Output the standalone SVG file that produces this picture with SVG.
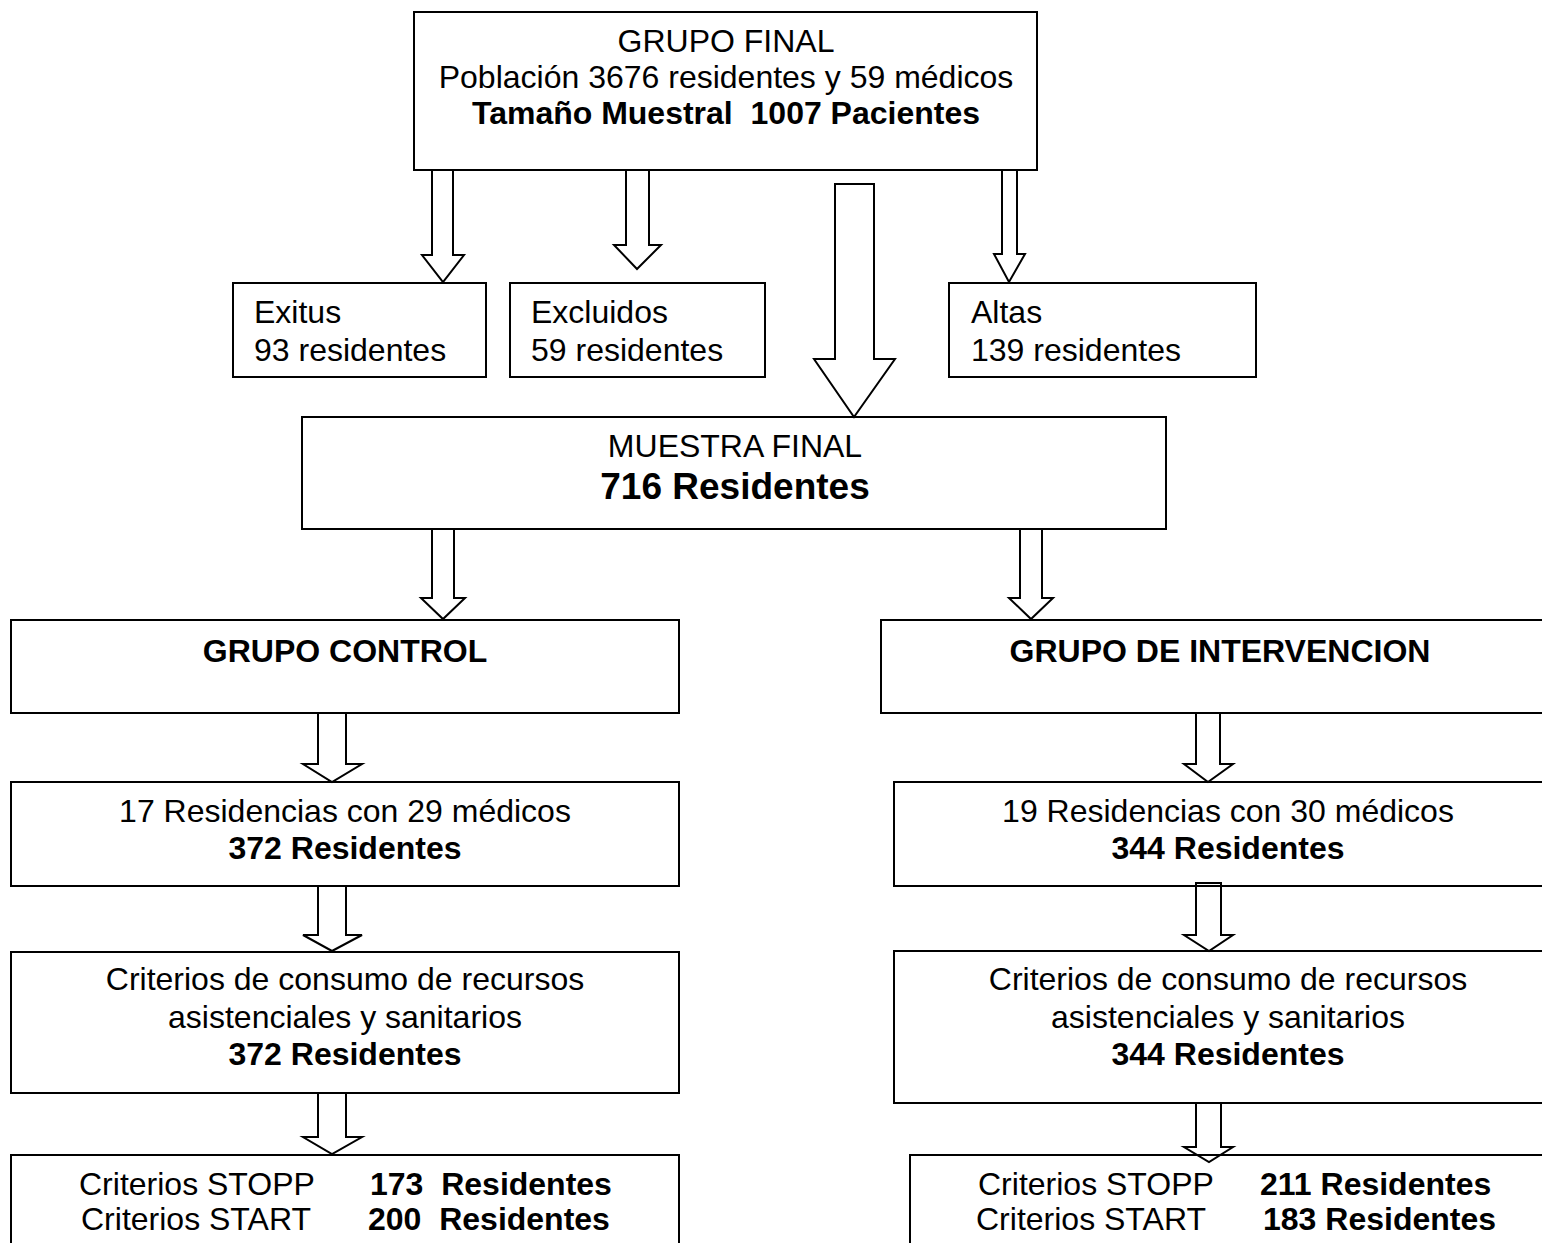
<svg xmlns="http://www.w3.org/2000/svg" width="1542" height="1243" viewBox="0 0 1542 1243">
<style>
.box{fill:#fff;stroke:#000;stroke-width:2}
.arr{fill:none;stroke:#000;stroke-width:2;stroke-linejoin:miter}
text{font-family:"Liberation Sans",Arial,sans-serif;font-size:32px;fill:#000}
.b{font-weight:bold}
.m{text-anchor:middle}
</style>
<rect width="1542" height="1243" fill="#fff"/>
<g id="grupo-final">
<rect class="box" x="414" y="12" width="623" height="158"/>
<text class="m" x="726" y="52">GRUPO FINAL</text>
<text class="m" x="726" y="88">Población 3676 residentes y 59 médicos</text>
<text class="m b" x="726" y="124" xml:space="preserve">Tamaño Muestral  1007 Pacientes</text>
</g>
<g id="exitus">
<rect class="box" x="233" y="283" width="253" height="94"/>
<text x="254" y="323">Exitus</text>
<text x="254" y="361">93 residentes</text>
</g>
<g id="excluidos">
<rect class="box" x="510" y="283" width="255" height="94"/>
<text x="531" y="323">Excluidos</text>
<text x="531" y="361">59 residentes</text>
</g>
<g id="altas">
<rect class="box" x="949" y="283" width="307" height="94"/>
<text x="971" y="323">Altas</text>
<text x="971" y="361">139 residentes</text>
</g>
<g id="muestra-final">
<rect class="box" x="302" y="417" width="864" height="112"/>
<text class="m" x="735" y="457">MUESTRA FINAL</text>
<text class="m b" x="735" y="499" style="font-size:37px">716 Residentes</text>
</g>
<g id="grupo-control">
<rect class="box" x="11" y="620" width="668" height="93"/>
<text class="m b" x="345" y="662">GRUPO CONTROL</text>
</g>
<g id="grupo-intervencion">
<rect class="box" x="881" y="620" width="680" height="93"/>
<text class="m b" x="1220" y="662">GRUPO DE INTERVENCION</text>
</g>
<g id="control-residencias">
<rect class="box" x="11" y="782" width="668" height="104"/>
<text class="m" x="345" y="822">17 Residencias con 29 médicos</text>
<text class="m b" x="345" y="859">372 Residentes</text>
</g>
<g id="intervencion-residencias">
<rect class="box" x="894" y="782" width="667" height="104"/>
<text class="m" x="1228" y="822">19 Residencias con 30 médicos</text>
<text class="m b" x="1228" y="859">344 Residentes</text>
</g>
<g id="control-criterios">
<rect class="box" x="11" y="952" width="668" height="141"/>
<text class="m" x="345" y="990">Criterios de consumo de recursos</text>
<text class="m" x="345" y="1028">asistenciales y sanitarios</text>
<text class="m b" x="345" y="1065">372 Residentes</text>
</g>
<g id="intervencion-criterios">
<rect class="box" x="894" y="951" width="667" height="152"/>
<text class="m" x="1228" y="990">Criterios de consumo de recursos</text>
<text class="m" x="1228" y="1028">asistenciales y sanitarios</text>
<text class="m b" x="1228" y="1065">344 Residentes</text>
</g>
<g id="control-stopp-start">
<rect class="box" x="11" y="1155" width="668" height="110"/>
<text x="79" y="1195">Criterios STOPP</text>
<text class="b" x="370" y="1195" xml:space="preserve">173  Residentes</text>
<text x="81" y="1230">Criterios START</text>
<text class="b" x="368" y="1230" xml:space="preserve">200  Residentes</text>
</g>
<g id="intervencion-stopp-start">
<rect class="box" x="910" y="1155" width="651" height="110"/>
<text x="978" y="1195">Criterios STOPP</text>
<text class="b" x="1260" y="1195">211 Residentes</text>
<text x="976" y="1230">Criterios START</text>
<text class="b" x="1263" y="1230">183 Residentes</text>
</g>
<g id="connectors">
<polygon class="arr" points="432,170 453,170 453,255 464,255 443,282 422,255 432,255"/>
<polygon class="arr" points="626,170 649,170 649,245 661,245 637,269 614,245 626,245"/>
<polygon class="arr" points="835,184 874,184 874,359 895,359 854,417 814,359 835,359"/>
<polygon class="arr" points="1002,170 1017,170 1017,254 1025,254 1009,282 994,254 1002,254"/>
<polygon class="arr" points="432,529 454,529 454,598 465,598 443,619 421,598 432,598"/>
<polygon class="arr" points="1020,529 1042,529 1042,598 1053,598 1031,619 1009,598 1020,598"/>
<polygon class="arr" points="318,713 346,713 346,764 362,764 332,782 303,764 318,764"/>
<polygon class="arr" points="318,886 346,886 346,935 362,935 332,951 303,935 318,935"/>
<polygon class="arr" points="318,1093 346,1093 346,1137 362,1137 332,1154 303,1137 318,1137"/>
<polygon class="arr" points="1196,713 1220,713 1220,764 1233,764 1208,782 1184,764 1196,764"/>
<polygon class="arr" points="1196,883 1221,883 1221,935 1233,935 1209,951 1184,935 1196,935"/>
<polygon class="arr" points="1196,1103 1221,1103 1221,1147 1233,1147 1209,1162 1184,1147 1196,1147"/>
</g>
</svg>
